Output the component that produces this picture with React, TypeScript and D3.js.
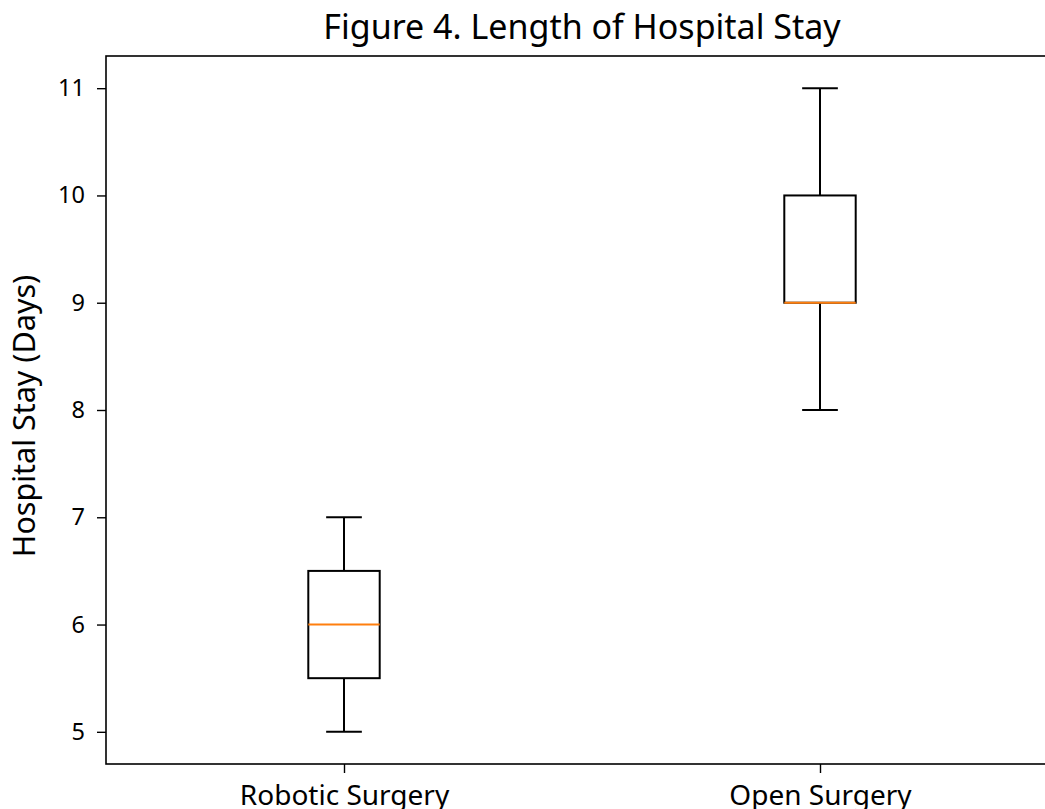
// App.tsx
// box plot of hospital stay, drawn with d3 into an svg ref
import * as d3 from 'd3';
import React, { useRef, useEffect } from 'react';

const categories = ["Robotic Surgery", "Open Surgery"];
const whiskerLow = [5, 8];
const q1 = [5.5, 9];
const medians = [6, 9];
const q3 = [6.5, 10];
const whiskerHigh = [7, 11];
const yTicks = [5, 6, 7, 8, 9, 10, 11];

const title = "Figure 4. Length of Hospital Stay";
const yLabel = "Hospital Stay (Days)";

const width = 1045;
const height = 809;
const FONT = "'Noto Sans', 'DejaVu Sans', sans-serif";

function BoxPlot() {
    const ref = useRef<SVGSVGElement>(null);

    useEffect(() => {
        const svg = d3.select(ref.current);
        svg.selectAll("*").remove();

        const left = 106, right = 1058, top = 56, bottom = 764;

        const xScale = d3.scaleLinear().domain([0.5, 2.5]).range([left, right]);
        const yScale = d3.scaleLinear().domain([4.7, 11.3]).range([bottom, top]);

        const boxW = 0.15;   // in data units like matplotlib
        const capW = boxW / 2;

        // y axis
        const yAxis = svg.append("g")
            .attr("transform", "translate(" + left + ",0)")
            .call(d3.axisLeft(yScale).tickValues(yTicks).tickSize(9).tickPadding(12).tickFormat(d3.format("d")));
        yAxis.select(".domain").remove();
        yAxis.selectAll(".tick line").attr("stroke", "#000").attr("stroke-width", 1.4);
        yAxis.selectAll(".tick text").attr("font-family", FONT).attr("font-size", 23.5).attr("fill", "#000");

        // x axis
        const xAxis = svg.append("g")
            .attr("transform", "translate(0," + bottom + ")")
            .call(d3.axisBottom(xScale).tickValues([1, 2]).tickSize(9).tickPadding(9)
                .tickFormat((d) => categories[(d as number) - 1]));
        xAxis.select(".domain").remove();
        xAxis.selectAll(".tick line").attr("stroke", "#000").attr("stroke-width", 1.4);
        xAxis.selectAll(".tick text")
            .attr("font-family", FONT).attr("font-size", 28).attr("fill", "#000")
            .attr("dy", null).attr("y", 41);

        // boxes
        const g = svg.append("g");
        categories.forEach((c, i) => {
            const cx = i + 1;
            // whiskers
            g.append("line")
                .attr("x1", xScale(cx)).attr("x2", xScale(cx))
                .attr("y1", yScale(whiskerLow[i])).attr("y2", yScale(q1[i]))
                .attr("stroke", "#000").attr("stroke-width", 2);
            g.append("line")
                .attr("x1", xScale(cx)).attr("x2", xScale(cx))
                .attr("y1", yScale(q3[i])).attr("y2", yScale(whiskerHigh[i]))
                .attr("stroke", "#000").attr("stroke-width", 2);
            // caps
            [whiskerLow[i], whiskerHigh[i]].forEach((v) => {
                g.append("line")
                    .attr("x1", xScale(cx - capW / 2)).attr("x2", xScale(cx + capW / 2))
                    .attr("y1", yScale(v)).attr("y2", yScale(v))
                    .attr("stroke", "#000").attr("stroke-width", 2);
            });
            // box
            g.append("rect")
                .attr("x", xScale(cx - boxW / 2))
                .attr("y", yScale(q3[i]))
                .attr("width", xScale(cx + boxW / 2) - xScale(cx - boxW / 2))
                .attr("height", yScale(q1[i]) - yScale(q3[i]))
                .attr("fill", "none").attr("stroke", "#000").attr("stroke-width", 2);
            // median
            g.append("line")
                .attr("x1", xScale(cx - boxW / 2)).attr("x2", xScale(cx + boxW / 2))
                .attr("y1", yScale(medians[i])).attr("y2", yScale(medians[i]))
                .attr("stroke", "#ff7f0e").attr("stroke-width", 2);
        });

        // frame
        svg.append("rect")
            .attr("x", left).attr("y", top)
            .attr("width", right - left).attr("height", bottom - top)
            .attr("fill", "none").attr("stroke", "#000").attr("stroke-width", 1.6);

        // title
        svg.append("text")
            .attr("x", (left + right) / 2)
            .attr("y", 39)
            .attr("text-anchor", "middle")
            .attr("font-family", FONT).attr("font-size", 34).attr("fill", "#000")
            .text(title);

        // y label
        svg.append("text")
            .attr("transform", "translate(35,416) rotate(-90)")
            .attr("text-anchor", "middle")
            .attr("font-family", FONT).attr("font-size", 30.5).attr("fill", "#000")
            .text(yLabel);
    }, []);

    return (
        <svg ref={ref} width={width} height={height}
            style={{ position: "absolute", left: 0, top: 0, background: "#fff" }}>
        </svg>
    );
}

export default function App() {
    return <BoxPlot />;
}
